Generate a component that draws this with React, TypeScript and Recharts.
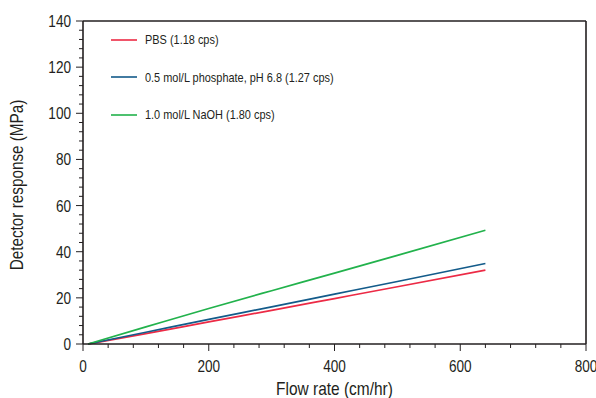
import React from 'react';
import { LineChart, Line, XAxis, YAxis, Legend, ReferenceLine, Label } from 'recharts';

const flowRate = [8, 100, 200, 300, 400, 500, 640];
const pbs = [0, 4.5, 9.6, 14.6, 19.7, 24.8, 32.0];
const phosphate = [0, 5.1, 10.7, 16.1, 21.6, 27.1, 34.9];
const naoh = [0, 7.4, 15.4, 23.1, 30.7, 38.4, 49.3];

const xTicks = Array.from({ length: 21 }, (_, i) => i * 40);
const yTicks = Array.from({ length: 36 }, (_, i) => i * 4);

const seriesNames = ['PBS (1.18 cps)', '0.5 mol/L phosphate, pH 6.8 (1.27 cps)', '1.0 mol/L NaOH (1.80 cps)'];
const seriesKeys = ['pbs', 'phosphate', 'naoh'];
const seriesColors = ['#ec2a45', '#135b8a', '#22b24c'];

const data = flowRate.map((f, i) => ({ flow: f, pbs: pbs[i], phosphate: phosphate[i], naoh: naoh[i] }));

const FONT = '"Liberation Sans", Arial, sans-serif';
const AXIS = '#231f20';
const TEXT = '#231f20';

const XTick = (props: any) => {
  const { x, y, payload } = props;
  const major = payload.value % 200 === 0;
  return (
    <g>
      <line x1={x} x2={x} y1={y} y2={y + (major ? 7 : 4)} stroke={AXIS} strokeWidth={1} />
      {major && (
        <text transform={`translate(${x},${y + 28}) scale(0.8,1)`} x={0} y={0} textAnchor="middle" fontFamily={FONT} fontSize={17} fill={TEXT}>
          {payload.value}
        </text>
      )}
    </g>
  );
};

const YTick = (props: any) => {
  const { x, y, payload } = props;
  const major = payload.value % 20 === 0;
  return (
    <g>
      <line x1={x - (major ? 7 : 4)} x2={x} y1={y} y2={y} stroke={AXIS} strokeWidth={1} />
      {major && (
        <text transform={`translate(${x - 12},${y + 6}) scale(0.8,1)`} x={0} y={0} textAnchor="end" fontFamily={FONT} fontSize={17} fill={TEXT}>
          {payload.value}
        </text>
      )}
    </g>
  );
};

const XTitle = (props: any) => {
  const vb = props.viewBox || { x: 83, y: 344, width: 503, height: 54 };
  const cx = vb.x + vb.width / 2;
  return (
    <text transform={`translate(${cx},${vb.y + 50.5}) scale(0.86,1)`} x={0} y={0} textAnchor="middle" fontFamily={FONT} fontSize={18} fill={TEXT}>
      Flow rate (cm/hr)
    </text>
  );
};

const YTitle = (props: any) => {
  const vb = props.viewBox || { x: 0, y: 21, width: 83, height: 323 };
  const cy = vb.y + vb.height / 2 + 2.5;
  return (
    <text transform={`translate(${vb.x + 22.5},${cy}) rotate(-90) scale(0.85,1)`} x={0} y={0} textAnchor="middle" fontFamily={FONT} fontSize={18} fill={TEXT}>
      Detector response (MPa)
    </text>
  );
};

const LegendContent = () => (
  <div style={{ fontFamily: FONT, fontSize: 13.5, color: TEXT }}>
    {seriesNames.map((n, i) => (
      <div key={n} style={{ height: 37.5, display: 'flex', alignItems: 'center', whiteSpace: 'nowrap' }}>
        <svg width={26} height={4} style={{ display: 'block' }}>
          <line x1={0} x2={26} y1={2} y2={2} stroke={seriesColors[i]} strokeWidth={1.6} />
        </svg>
        <span style={{ marginLeft: 8, display: 'inline-block', transform: 'scaleX(0.81)', transformOrigin: 'left center' }}>{n}</span>
      </div>
    ))}
  </div>
);

export default function App() {
  return (
    <div style={{ position: 'absolute', left: 0, top: 0, width: 596, height: 398, background: '#fff' }}>
      <LineChart width={596} height={398} data={data} margin={{ top: 21, right: 10, left: 0, bottom: 0 }}>
        <XAxis
          dataKey="flow"
          type="number"
          domain={[0, 800]}
          ticks={xTicks}
          interval={0}
          tickSize={0}
          tickMargin={0}
          tickLine={false}
          tick={XTick}
          height={54}
          axisLine={{ stroke: AXIS, strokeWidth: 1.6 }}
        >
          <Label content={XTitle} />
        </XAxis>
        <YAxis
          type="number"
          domain={[0, 140]}
          ticks={yTicks}
          interval={0}
          tickSize={0}
          tickMargin={0}
          tickLine={false}
          tick={YTick}
          width={83}
          axisLine={{ stroke: AXIS, strokeWidth: 1.6 }}
        >
          <Label content={YTitle} />
        </YAxis>
        <ReferenceLine y={140} stroke={AXIS} strokeWidth={1.6} />
        <ReferenceLine x={800} stroke={AXIS} strokeWidth={1.6} />
        <Legend
          layout="vertical"
          align="center"
          verticalAlign="middle"
          wrapperStyle={{ left: 111, top: 21, width: 'auto' }}
          content={LegendContent}
        />
        {seriesKeys.map((k, i) => (
          <Line
            key={k}
            dataKey={k}
            type="monotone"
            stroke={seriesColors[i]}
            strokeWidth={1.7}
            dot={false}
            isAnimationActive={false}
          />
        ))}
      </LineChart>
    </div>
  );
}
